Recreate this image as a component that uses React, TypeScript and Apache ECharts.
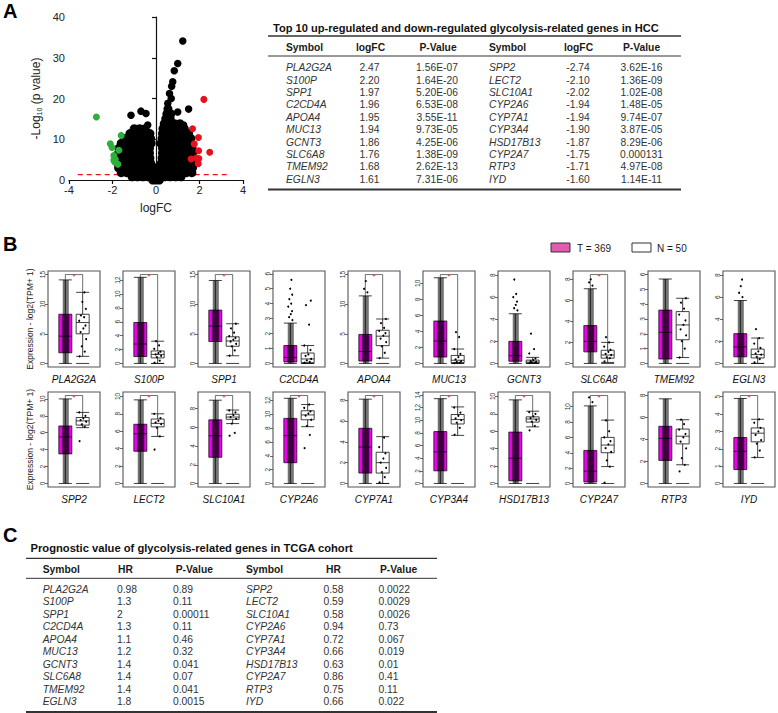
import React, { useEffect, useRef } from 'react';
import * as echarts from 'echarts';

const FONT = '"Liberation Sans", Arial, Helvetica, sans-serif';

// ---------- Panel A data ----------
const upGenes = ['PLA2G2A', 'S100P', 'SPP1', 'C2CD4A', 'APOA4', 'MUC13', 'GCNT3', 'SLC6A8', 'TMEM92', 'EGLN3'];
const upLogFC = ['2.47', '2.20', '1.97', '1.96', '1.95', '1.94', '1.86', '1.76', '1.68', '1.61'];
const upPValue = ['1.56E-07', '1.64E-20', '5.20E-06', '6.53E-08', '3.55E-11', '9.73E-05', '4.25E-06', '1.38E-09', '2.62E-13', '7.31E-06'];
const downGenes = ['SPP2', 'LECT2', 'SLC10A1', 'CYP2A6', 'CYP7A1', 'CYP3A4', 'HSD17B13', 'CYP2A7', 'RTP3', 'IYD'];
const downLogFC = ['-2.74', '-2.10', '-2.02', '-1.94', '-1.94', '-1.90', '-1.87', '-1.75', '-1.71', '-1.60'];
const downPValue = ['3.62E-16', '1.36E-09', '1.02E-08', '1.48E-05', '9.74E-07', '3.87E-05', '8.29E-06', '0.000131', '4.97E-08', '1.14E-11'];

const volcanoXTicks = [-4, 4, 2];
const volcanoYTicks = [0, 40, 10];
const pCutoff = 0.05;
const cutoffSpan = [-3.6, 3.3];

// black (non-significant) genes: rows of [ -log10 p , logFC values ]
const blobRows: [number, number[]][] = [
  [0.0, [-0.15, 0, 0.15]],
  [0.8, [-1.1, -0.85, -0.6, -0.35, -0.1, 0.15, 0.4, 0.65, 0.9, 1.15]],
  [1.8, [-1.6, -1.35, -1.1, -0.85, -0.6, -0.35, -0.1, 0.15, 0.4, 0.65, 0.9, 1.15, 1.4, 1.65]],
  [3.0, [-1.72, -1.47, -1.22, -0.97, -0.72, -0.47, -0.22, 0, 0.22, 0.47, 0.72, 0.97, 1.22, 1.47, 1.68]],
  [4.2, [-1.75, -1.5, -1.25, -1.0, -0.75, -0.5, -0.25, 0.25, 0.5, 0.75, 1.0, 1.25, 1.5, 1.68]],
  [5.4, [-1.75, -1.5, -1.25, -1.0, -0.75, -0.5, -0.28, 0.28, 0.5, 0.75, 1.0, 1.25, 1.5, 1.68]],
  [6.6, [-1.72, -1.47, -1.22, -0.97, -0.72, -0.47, -0.3, 0.3, 0.52, 0.77, 1.02, 1.27, 1.52, 1.68]],
  [7.8, [-1.7, -1.45, -1.2, -0.95, -0.7, -0.45, -0.3, 0.3, 0.55, 0.8, 1.05, 1.3, 1.55, 1.66]],
  [9.0, [-1.6, -1.35, -1.1, -0.85, -0.6, -0.38, -0.22, 0.22, 0.4, 0.65, 0.9, 1.15, 1.4, 1.62]],
  [10.2, [-1.45, -1.2, -0.95, -0.7, -0.45, -0.25, 0.28, 0.48, 0.73, 0.98, 1.23, 1.48, 1.6]],
  [11.4, [-1.2, -0.95, -0.7, -0.45, -0.28, 0.3, 0.5, 0.75, 1.0, 1.25, 1.5]],
  [12.6, [-1.0, -0.75, -0.5, 0.32, 0.55, 0.8, 1.05, 1.3]],
  [13.8, [0.38, 0.6, 0.85, 1.1]],
  [15.0, [0.45, 0.65]],
  [16.2, [0.5, 0.68]],
  [17.4, [0.55]],
];
const blobExtra: [number, number][] = [
  [1.23, 34.1], [1.0, 28.6], [0.84, 26.8], [0.77, 24.1], [0.72, 23.0], [0.7, 20.0], [0.62, 21.2],
  [0.54, 18.8], [1.0, 16.7], [1.5, 17.4], [1.27, 13.5], [-1.15, 15.9], [-0.69, 16.9],
  [-0.46, 16.3], [-0.38, 13.5],
];

// ---------- Panel B data ----------
const boxGenes = [...upGenes, ...downGenes];
// [min, Q1, median, Q3, max]
const tumorStats = [
  [0, 1.8, 4.6, 8.3, 14.1], [0, 1.0, 2.8, 5.9, 12.4], [0, 3.7, 6.3, 9.0, 14.0], [0, 0.1, 0.4, 1.2, 2.7],
  [0, 0.4, 2.0, 4.9, 11.4], [0, 0.8, 2.8, 5.3, 10.7], [0, 0.2, 0.7, 2.0, 4.5], [0, 1.1, 2.1, 3.6, 7.1],
  [0, 0.3, 2.1, 3.6, 5.7], [0, 0.6, 1.5, 2.7, 5.7],
  [0, 3.5, 5.5, 6.8, 10.0], [0, 3.7, 5.7, 6.8, 9.6], [0, 2.8, 5.1, 6.8, 8.9], [0, 3.0, 6.9, 9.4, 12.3],
  [0, 1.0, 3.5, 5.3, 8.1], [0, 2.0, 5.0, 8.2, 13.4], [0, 0.3, 2.9, 5.9, 9.6], [0, 0.2, 1.6, 4.3, 10.1],
  [0, 2.1, 4.1, 5.2, 7.7], [0, 0.8, 1.85, 2.65, 4.9],
];
const normalStats = [
  [1.2, 5.0, 6.9, 8.3, 12.0], [0, 0.8, 1.3, 1.8, 3.2], [1.3, 2.9, 3.8, 4.5, 6.7], [0, 0.05, 0.3, 0.7, 1.2],
  [0.9, 3.0, 4.6, 5.6, 7.5], [0, 0.1, 0.4, 1.0, 1.8], [0, 0.03, 0.12, 0.3, 0.55], [0.1, 0.5, 0.8, 1.25, 2.0],
  [0.4, 1.6, 2.6, 3.5, 4.4], [0, 0.5, 0.8, 1.3, 2.3],
  [6.6, 6.9, 7.4, 7.8, 8.4], [5.4, 6.5, 6.9, 7.4, 8.0], [6.4, 6.86, 7.1, 7.4, 7.85], [8.2, 9.2, 9.9, 10.5, 11.4],
  [0, 1.0, 2.0, 3.0, 4.5], [7.6, 9.4, 10.1, 10.9, 12.1], [6.5, 7.05, 7.4, 7.65, 8.3], [2.2, 4.0, 5.0, 6.0, 8.25],
  [1.7, 3.6, 4.3, 4.95, 5.8], [1.5, 2.4, 2.9, 3.2, 3.7],
];
const panelTop = [15.0, 12.8, 15.0, 5.95, 15.0, 11.1, 8.05, 8.45, 6.0, 8.05, 10.4, 10.1, 9.4, 12.7, 8.45, 13.9, 10.1, 11.45, 8.0, 5.07];
const panelTicks = [
  [0, 5, 10, 15], [0, 2, 4, 6, 8, 10, 12], [0, 5, 10, 15], [0, 1, 2, 3, 4, 5, 6], [0, 5, 10, 15],
  [0, 2, 4, 6, 8, 10], [0, 2, 4, 6, 8], [0, 2, 4, 6, 8], [0, 1, 2, 3, 4, 5, 6], [0, 2, 4, 6, 8],
  [0, 2, 4, 6, 8, 10], [0, 2, 4, 6, 8, 10], [0, 2, 4, 6, 8], [0, 2, 4, 6, 8, 10, 12], [0, 2, 4, 6, 8],
  [0, 2, 4, 6, 8, 10, 12, 14], [0, 2, 4, 6, 8, 10], [0, 2, 4, 6, 8, 10], [0, 2, 4, 6, 8], [0, 1, 2, 3, 4, 5],
];
const significant = [1, 1, 1, 0, 1, 1, 0, 1, 0, 0, 1, 1, 1, 1, 1, 1, 1, 1, 0, 1];
const tumorOutliers = [
  [], [], [], [2.9, 3.1, 3.3, 3.5, 3.8, 4.0, 4.3, 4.6, 5.0, 5.6], [12.0, 12.6, 13.9], [],
  [4.8, 5.0, 5.3, 5.6, 6.0, 6.3, 7.6], [7.4, 7.7, 8.0], [], [6.0, 6.4, 7.0, 7.6],
  [], [], [], [], [], [], [], [10.6, 11.2], [], [],
];
const normalPoints = [
  [1.2, 2.0, 2.9, 4.1, 5.3, 5.9, 6.4, 7.2, 7.8, 8.1, 9.2, 10.4, 12.0],
  [0.1, 0.4, 0.9, 1.1, 1.3, 1.5, 1.7, 2.1, 2.6, 3.2],
  [1.3, 2.2, 2.9, 3.3, 3.7, 4.0, 4.3, 4.6, 5.2, 5.9, 6.7],
  [0.05, 0.1, 0.2, 0.3, 0.5, 0.6, 0.9, 1.2, 2.6, 3.9, 4.2],
  [0.9, 1.8, 2.9, 3.6, 4.2, 4.7, 5.1, 5.5, 6.0, 6.8, 7.5],
  [0.05, 0.1, 0.2, 0.3, 0.5, 0.8, 1.2, 1.8, 3.3, 3.9],
  [0.03, 0.06, 0.1, 0.15, 0.2, 0.3, 0.45, 0.9, 1.3, 2.7],
  [0.2, 0.5, 0.6, 0.8, 0.9, 1.1, 1.3, 1.6, 2.0, 2.5],
  [0.4, 1.0, 1.5, 1.9, 2.3, 2.6, 2.9, 3.3, 3.7, 4.1, 4.4],
  [0.1, 0.4, 0.6, 0.8, 0.9, 1.1, 1.4, 1.8, 2.3, 3.1],
  [5.0, 6.7, 7.0, 7.3, 7.5, 7.7, 8.0, 8.4],
  [3.9, 5.4, 6.4, 6.8, 7.0, 7.2, 7.5, 8.0],
  [5.1, 5.4, 6.4, 6.9, 7.1, 7.3, 7.6, 7.8],
  [5.1, 7.0, 8.3, 9.2, 9.8, 10.1, 10.4, 10.9, 11.4],
  [0.1, 0.6, 1.1, 1.5, 2.0, 2.4, 2.9, 3.5, 4.4],
  [7.7, 8.8, 9.6, 10.0, 10.3, 10.7, 11.2, 12.0],
  [6.1, 6.6, 7.1, 7.3, 7.5, 7.7, 8.0, 8.2],
  [0.1, 2.2, 3.0, 4.1, 4.6, 5.1, 5.5, 6.0, 6.8, 8.2],
  [1.1, 1.7, 2.3, 3.2, 3.8, 4.2, 4.5, 4.9, 5.4, 5.8],
  [1.5, 1.9, 2.3, 2.5, 2.8, 3.0, 3.2, 3.5, 3.7],
];
const jitterOffsets = [-0.18, 0.12, -0.05, 0.2, -0.12, 0.04, 0.16, -0.2, 0.08, -0.1, 0.18, -0.02, 0.1];
const groupLabels = ['T = 369', 'N = 50'];

// ---------- Panel C data ----------
const upHR = ['0.98', '1.3', '2', '1.3', '1.1', '1.2', '1.4', '1.4', '1.4', '1.8'];
const upHRP = ['0.89', '0.11', '0.00011', '0.11', '0.46', '0.32', '0.041', '0.07', '0.041', '0.0015'];
const downHR = ['0.58', '0.59', '0.58', '0.94', '0.72', '0.66', '0.63', '0.86', '0.75', '0.66'];
const downHRP = ['0.0022', '0.0029', '0.0026', '0.73', '0.067', '0.019', '0.01', '0.41', '0.11', '0.022'];

const T_COLOR = '#f000f0';

function txt(x: number, y: number, text: string, o: any = {}) {
  return {
    type: 'text', x, y, silent: true,
    style: {
      text, fontFamily: FONT, fontSize: o.size || 10.3, fontWeight: o.bold ? 'bold' : 'normal',
      fontStyle: o.italic ? 'italic' : 'normal', fill: o.color || '#1a1a1a',
      align: o.align || 'left', verticalAlign: 'middle',
    },
  };
}
function hline(x1: number, x2: number, y: number, w: number) {
  return { type: 'line', silent: true, shape: { x1, y1: y, x2, y2: y }, style: { stroke: '#333', lineWidth: w } };
}

function buildOption() {
  const grid: any[] = [];
  const xAxis: any[] = [];
  const yAxis: any[] = [];
  const series: any[] = [];
  const graphic: any[] = [];

  // ---- volcano ----
  grid.push({ left: 69, top: 17, width: 174, height: 163 });
  const axisCommon = {
    axisLine: { lineStyle: { color: '#111', width: 1.2 } },
    axisTick: { length: 4, lineStyle: { color: '#111', width: 1.2 } },
    axisLabel: { fontSize: 11, color: '#222', fontFamily: FONT, margin: 4 },
    splitLine: { show: false },
  };
  xAxis.push({
    gridIndex: 0, type: 'value', min: volcanoXTicks[0], max: volcanoXTicks[1], interval: volcanoXTicks[2], ...axisCommon,
    name: 'logFC', nameLocation: 'middle', nameGap: 22,
    nameTextStyle: { fontSize: 12, color: '#222', fontFamily: FONT },
  });
  yAxis.push({
    gridIndex: 0, type: 'value', min: volcanoYTicks[0], max: volcanoYTicks[1], interval: volcanoYTicks[2], ...axisCommon,
    name: '-Log{sub|10} (p value)', nameLocation: 'middle', nameGap: 26, nameRotate: 90,
    nameTextStyle: {
      fontSize: 12, color: '#222', fontFamily: FONT, lineHeight: 14,
      rich: { sub: { fontSize: 7, fontFamily: FONT, color: '#222', verticalAlign: 'bottom', lineHeight: 8 } },
    },
  });
  const cutY = -Math.log10(pCutoff);
  series.push({
    type: 'line', xAxisIndex: 0, yAxisIndex: 0, silent: true, symbol: 'none', z: 1,
    data: [[cutoffSpan[0], cutY], [cutoffSpan[1], cutY]],
    lineStyle: { color: '#e3141c', width: 1.2, type: [5, 4] },
  });
  const blob: number[][] = [];
  blobRows.forEach(([y, xs]) => xs.forEach((x) => blob.push([x, y])));
  series.push({
    type: 'scatter', xAxisIndex: 0, yAxisIndex: 0, silent: true, z: 2, symbolSize: 9,
    itemStyle: { color: '#000', opacity: 1 }, data: blob,
  });
  series.push({
    type: 'scatter', xAxisIndex: 0, yAxisIndex: 0, silent: true, z: 2, symbolSize: 7.5,
    itemStyle: { color: '#000', opacity: 1 }, data: blobExtra,
  });
  series.push({
    type: 'scatter', xAxisIndex: 0, yAxisIndex: 0, silent: true, z: 3, symbolSize: 7,
    itemStyle: { color: '#e8101c', opacity: 1 },
    data: upLogFC.map((v, i) => [parseFloat(v), -Math.log10(parseFloat(upPValue[i]))]),
  });
  series.push({
    type: 'scatter', xAxisIndex: 0, yAxisIndex: 0, silent: true, z: 3, symbolSize: 7,
    itemStyle: { color: '#2fae3b', opacity: 1 },
    data: downLogFC.map((v, i) => [parseFloat(v), -Math.log10(parseFloat(downPValue[i]))]),
  });

  // ---- box panels ----
  boxGenes.forEach((gene, i) => {
    const g = i + 1;
    const row = i < 10 ? 0 : 1;
    const col = i % 10;
    const top = panelTop[i];
    const t = tumorStats[i];
    const n = normalStats[i];
    grid.push({
      left: 48 + 75 * col, top: row ? 392 : 271, width: 52, height: row ? 95 : 96,
      show: true, borderColor: '#555', borderWidth: 1.1, backgroundColor: 'transparent',
    });
    xAxis.push({
      gridIndex: g, type: 'value', min: 0, max: 3,
      axisLine: { show: false }, axisTick: { show: false }, axisLabel: { show: false }, splitLine: { show: false },
      name: gene, nameLocation: 'middle', nameGap: 7,
      nameTextStyle: { fontStyle: 'italic', fontSize: 10, color: '#111', fontFamily: FONT },
    });
    yAxis.push({
      gridIndex: g, type: 'value', min: -0.04 * top, max: 1.04 * top,
      axisLine: { show: false },
      axisTick: { show: true, length: 3, customValues: panelTicks[i], lineStyle: { color: '#444', width: 0.8 } },
      axisLabel: { customValues: panelTicks[i], rotate: 90, fontSize: 6.5, margin: 2, color: '#333', fontFamily: FONT },
      splitLine: { show: false },
      ...(col === 0
        ? {
            name: 'Expression - log2(TPM+ 1)', nameLocation: 'middle', nameGap: 14, nameRotate: 90,
            nameTextStyle: { fontSize: 8.5, color: '#222', fontFamily: FONT },
          }
        : {}),
    });
    series.push({
      type: 'boxplot', xAxisIndex: g, yAxisIndex: g, silent: true, z: 2, boxWidth: [13, 13],
      itemStyle: { borderColor: '#111', borderWidth: 0.8 },
      data: [
        { value: [1, ...t], itemStyle: { color: T_COLOR } },
        { value: [2, ...n], itemStyle: { color: '#ffffff' } },
      ],
    });
    const sig = significant[i];
    series.push({
      type: 'custom', xAxisIndex: g, yAxisIndex: g, silent: true, z: 3,
      data: [[1, t[4]]],
      renderItem: (_p: any, api: any) => {
        const a = api.coord([1 - 0.15, t[4]]);
        const b = api.coord([1 + 0.2, t[0]]);
        const q3 = api.coord([1 - 0.2, t[3]]);
        const q1 = api.coord([1 + 0.24, t[1]]);
        const z1 = api.coord([2 - 0.375, 0]);
        const z2 = api.coord([2 + 0.375, 0]);
        const children: any[] = [
          { type: 'rect', shape: { x: a[0], y: a[1], width: b[0] - a[0], height: b[1] - a[1] }, style: { fill: 'rgba(0,0,0,0.55)' } },
          { type: 'rect', shape: { x: q3[0], y: q3[1], width: q1[0] - q3[0], height: q1[1] - q3[1] }, style: { fill: 'rgba(0,0,0,0.45)' } },
          { type: 'line', shape: { x1: z1[0], y1: z1[1], x2: z2[0], y2: z2[1] }, style: { stroke: '#111', lineWidth: 0.8 } },
        ];
        if (sig) {
          const p1 = api.coord([1, t[4]]);
          const p2 = api.coord([1, top]);
          const p3 = api.coord([2, top]);
          const p4 = api.coord([2, n[4]]);
          children.push({
            type: 'polyline', shape: { points: [p1, p2, p3, p4] },
            style: { stroke: '#333', lineWidth: 0.7, fill: null },
          });
          const c = api.coord([1.5, top]);
          children.push({
            type: 'text', x: c[0], y: c[1] + 2,
            style: { text: '*', fill: '#ff2020', fontSize: 8, fontFamily: FONT, align: 'center', verticalAlign: 'middle' },
          });
        }
        return { type: 'group', children };
      },
    });
    const J = jitterOffsets.length;
    series.push({
      type: 'scatter', xAxisIndex: g, yAxisIndex: g, silent: true, z: 4, symbolSize: 2,
      itemStyle: { color: '#000', opacity: 1 },
      data: [
        ...normalPoints[i].map((v, k) => [2 + jitterOffsets[k % J], v]),
        ...tumorOutliers[i].map((v, k) => [1 + jitterOffsets[(k + 3) % J] * 0.6, v]),
      ],
    });
  });

  // ---- panel letters ----
  graphic.push(txt(3, 11, 'A', { size: 20, bold: true, color: '#000' }));
  graphic.push(txt(3, 244, 'B', { size: 20, bold: true, color: '#000' }));
  graphic.push(txt(3, 535, 'C', { size: 20, bold: true, color: '#000' }));

  // ---- legend ----
  graphic.push({ type: 'rect', silent: true, shape: { x: 551, y: 243, width: 19, height: 9 }, style: { fill: '#e35aae', stroke: '#333', lineWidth: 1 } });
  graphic.push(txt(577, 248, groupLabels[0], { size: 10 }));
  graphic.push({ type: 'rect', silent: true, shape: { x: 632, y: 243, width: 19, height: 9 }, style: { fill: '#fff', stroke: '#333', lineWidth: 1 } });
  graphic.push(txt(657, 248, groupLabels[1], { size: 10 }));

  // ---- table A ----
  graphic.push(txt(273, 28, 'Top 10 up-regulated and down-regulated glycolysis-related genes in HCC', { size: 11.1, bold: true, color: '#111' }));
  graphic.push(hline(268, 681, 36, 1.3));
  graphic.push(hline(268, 681, 56, 1));
  graphic.push(hline(268, 681, 189.5, 1.8));
  const hA = 47.5;
  graphic.push(txt(286, hA, 'Symbol', { bold: true }));
  graphic.push(txt(370.5, hA, 'logFC', { bold: true, align: 'center' }));
  graphic.push(txt(438, hA, 'P-Value', { bold: true, align: 'center' }));
  graphic.push(txt(489, hA, 'Symbol', { bold: true }));
  graphic.push(txt(578.5, hA, 'logFC', { bold: true, align: 'center' }));
  graphic.push(txt(641.5, hA, 'P-Value', { bold: true, align: 'center' }));
  for (let k = 0; k < 10; k++) {
    const y = 67.7 + 12.4 * k;
    graphic.push(txt(286, y, upGenes[k], { italic: true, color: '#333' }));
    graphic.push(txt(369.5, y, upLogFC[k], { align: 'center', color: '#333' }));
    graphic.push(txt(437, y, upPValue[k], { align: 'center', color: '#333' }));
    graphic.push(txt(489, y, downGenes[k], { italic: true, color: '#333' }));
    graphic.push(txt(578, y, downLogFC[k], { align: 'center', color: '#333' }));
    graphic.push(txt(641.5, y, downPValue[k], { align: 'center', color: '#333' }));
  }

  // ---- table C ----
  graphic.push(txt(30.5, 547.5, 'Prognostic value of glycolysis-related genes in TCGA cohort', { size: 11.2, bold: true, color: '#111' }));
  graphic.push(hline(26, 437, 558.3, 1.3));
  graphic.push(hline(26, 437, 578.3, 1));
  graphic.push(hline(26, 437, 712, 1.8));
  const hC = 569.5;
  graphic.push(txt(42.7, hC, 'Symbol', { bold: true }));
  graphic.push(txt(118, hC, 'HR', { bold: true }));
  graphic.push(txt(175.7, hC, 'P-Value', { bold: true }));
  graphic.push(txt(246, hC, 'Symbol', { bold: true }));
  graphic.push(txt(326, hC, 'HR', { bold: true }));
  graphic.push(txt(380, hC, 'P-Value', { bold: true }));
  for (let k = 0; k < 10; k++) {
    const y = 589 + 12.5 * k;
    graphic.push(txt(42.7, y, upGenes[k], { italic: true, color: '#333' }));
    graphic.push(txt(117, y, upHR[k], { color: '#333' }));
    graphic.push(txt(173, y, upHRP[k], { color: '#333' }));
    graphic.push(txt(246, y, downGenes[k], { italic: true, color: '#333' }));
    graphic.push(txt(323.5, y, downHR[k], { color: '#333' }));
    graphic.push(txt(378.5, y, downHRP[k], { color: '#333' }));
  }

  return {
    animation: false,
    backgroundColor: '#fff',
    textStyle: { fontFamily: FONT },
    grid, xAxis, yAxis, series, graphic,
  };
}

export default function App() {
  const ref = useRef<HTMLDivElement>(null);
  useEffect(() => {
    document.body.style.margin = '0';
    const chart = echarts.init(ref.current as HTMLDivElement, null, { renderer: 'svg' });
    chart.setOption(buildOption() as any);
    return () => chart.dispose();
  }, []);
  return <div ref={ref} style={{ width: 778, height: 713 }} />;
}
